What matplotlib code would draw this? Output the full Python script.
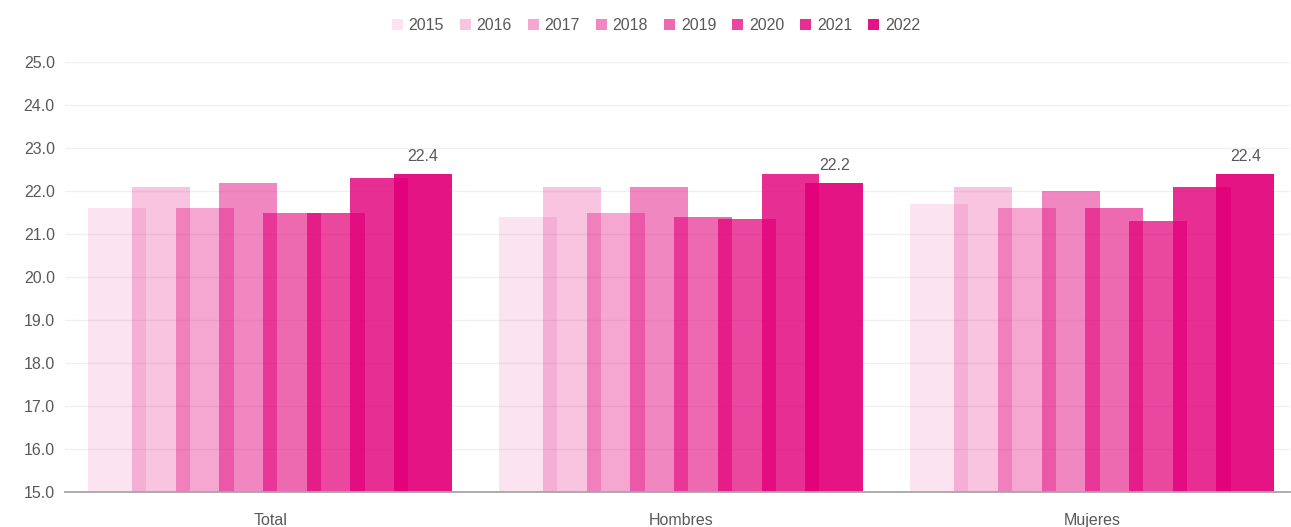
import numpy as np
import matplotlib.pyplot as plt
from matplotlib.patches import Rectangle

plt.rcParams['font.family'] = ['Liberation Sans', 'DejaVu Sans']

groups = ['Total', 'Hombres', 'Mujeres']
years = ['2015', '2016', '2017', '2018', '2019', '2020', '2021', '2022']
# values per year: [Total, Hombres, Mujeres]
values = {
    '2015': [21.6, 21.4, 21.7],
    '2016': [22.1, 22.1, 22.1],
    '2017': [21.6, 21.5, 21.6],
    '2018': [22.2, 22.1, 22.0],
    '2019': [21.5, 21.4, 21.6],
    '2020': [21.5, 21.35, 21.3],
    '2021': [22.3, 22.4, 22.1],
    '2022': [22.4, 22.2, 22.4],
}
alphas = [0.11, 0.23, 0.345, 0.47, 0.59, 0.72, 0.82, 0.92]
base = '#e2007a'

fig = plt.figure(figsize=(12.91, 5.27), dpi=100)
ax = fig.add_axes([0.050, 0.0664, 0.949, 0.8156])

x = np.arange(len(groups))
step = 0.1063
width = 0.141
for i, yr in enumerate(years):
    pos = x + (i - 3.5) * step
    ax.bar(pos, np.array(values[yr]) - 15, width, bottom=15, color=base,
           alpha=alphas[i], linewidth=0, zorder=2)

# data labels on the last year
last = values['2022']
for gi in range(len(groups)):
    ax.text(x[gi] + 3.5 * step, last[gi] + 0.22, f'{last[gi]:.1f}',
            ha='center', va='bottom', fontsize=11.5, color='#595959')

ax.set_ylim(15, 25)
ax.set_xlim(-0.5, 2.48)
ax.set_yticks(np.arange(15, 25.1, 1))
ax.set_yticklabels([f'{v:.1f}' for v in np.arange(15, 25.1, 1)])
ax.set_xticks(x)
ax.set_xticklabels(groups)
ax.tick_params(axis='both', length=0, labelsize=11.5, labelcolor='#595959')
ax.tick_params(axis='x', pad=15)
ax.tick_params(axis='y', pad=7)
ax.yaxis.grid(True, color='#f0f0f0', linewidth=1)
ax.set_axisbelow(True)
for s in ['top', 'right', 'left']:
    ax.spines[s].set_visible(False)
ax.spines['bottom'].set_color('#a6a6a6')
ax.spines['bottom'].set_linewidth(1.3)
ax.spines['bottom'].set_zorder(3)

handles = [Rectangle((0, 0), 1, 1, color=base, alpha=a, linewidth=0) for a in alphas]
fig.legend(handles, years, loc='center', bbox_to_anchor=(0.508, 0.952), ncol=8,
           frameon=False, handlelength=0.7, handleheight=0.7, handletextpad=0.35,
           columnspacing=1.0, fontsize=11.5, labelcolor='#595959')

fig.savefig('out.png', dpi=100)
